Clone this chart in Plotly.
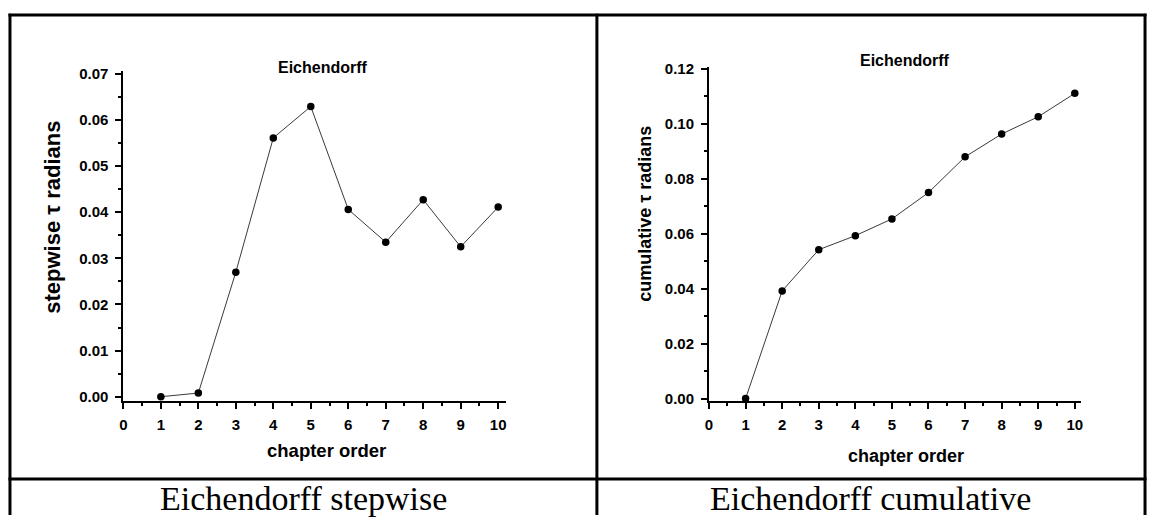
import plotly.graph_objects as go

# Eichendorff: stepwise and cumulative tau (radians) per chapter
chapters = [1, 2, 3, 4, 5, 6, 7, 8, 9, 10]
stepwise_tau = [0.0000, 0.0008, 0.0270, 0.0561, 0.0629, 0.0406, 0.0335, 0.0427, 0.0325, 0.0411]
cumulative_tau = [0.0000, 0.0392, 0.0542, 0.0593, 0.0654, 0.0750, 0.0880, 0.0963, 0.1026, 0.1111]

panel_title = "Eichendorff"
x_title = "chapter order"
y_title_step = "stepwise \u03c4 radians"
y_title_cum = "cumulative \u03c4 radians"
captions = ["Eichendorff stepwise", "Eichendorff cumulative"]

W, H = 1153, 518


def px(x):
    return x / W


def py(y):
    return 1 - y / H


SANS = "Liberation Sans, Arial, sans-serif"
SERIF = "Liberation Serif, Times New Roman, serif"

fig = go.Figure()

line_style = dict(color="#3a3a3a", width=1)
marker_style = dict(color="black", size=7.5, symbol="circle")

fig.add_trace(go.Scatter(x=chapters, y=stepwise_tau, mode="lines+markers",
                         line=line_style, marker=marker_style,
                         xaxis="x", yaxis="y", showlegend=False))
fig.add_trace(go.Scatter(x=chapters, y=cumulative_tau, mode="lines+markers",
                         line=line_style, marker=marker_style,
                         xaxis="x2", yaxis="y2", showlegend=False))

tick_font = dict(family=SANS, size=15, color="black", weight="bold")


def xaxis_style(domain, rng):
    return dict(domain=domain, range=rng, showgrid=False, zeroline=False,
                showline=True, linecolor="black", linewidth=2,
                ticks="outside", ticklen=6, tickwidth=1.5, tickcolor="black",
                tickmode="linear", tick0=0, dtick=1, tickfont=tick_font,
                ticklabelstandoff=3,
                minor=dict(ticks="outside", ticklen=3, tickwidth=1.5,
                           tickcolor="black", dtick=0.5, tick0=0, showgrid=False),
                fixedrange=True)


def yaxis_style(domain, rng, dtick, minor_dtick, anchor):
    return dict(domain=domain, range=rng, showgrid=False, zeroline=False,
                anchor=anchor,
                showline=True, linecolor="black", linewidth=2,
                ticks="outside", ticklen=6, tickwidth=1.5, tickcolor="black",
                tickmode="linear", tick0=0, dtick=dtick, tickformat=".2f",
                tickfont=tick_font, ticklabelstandoff=4,
                minor=dict(ticks="outside", ticklen=3, tickwidth=1.5,
                           tickcolor="black", dtick=minor_dtick, tick0=0,
                           showgrid=False),
                fixedrange=True)


ydom = [py(403.7), py(66)]
ydom2 = [py(403.7), py(61.7)]

fig.update_layout(
    width=W, height=H,
    margin=dict(l=0, r=0, t=0, b=0),
    paper_bgcolor="white", plot_bgcolor="white",
    xaxis=dict(**xaxis_style([px(120), px(504.3)], [0, 10.2]), anchor="y"),
    yaxis=yaxis_style(ydom, [-0.001, 0.0705], 0.01, 0.005, "x"),
    xaxis2=dict(**xaxis_style([px(708.7), px(1082.3)], [0, 10.16]), anchor="y2"),
    yaxis2=yaxis_style(ydom2, [-0.001, 0.1206], 0.02, 0.01, "x2"),
)

annotations = []


def label(text, x, y, size, angle=0, family=SANS, bold=True):
    annotations.append(dict(text=text, x=px(x), y=py(y), xref="paper", yref="paper",
                            xanchor="center", yanchor="middle", showarrow=False,
                            textangle=angle,
                            font=dict(family=family, size=size, color="black",
                                      weight="bold" if bold else "normal")))


# panel titles
label(panel_title, 321, 62, 16)
label(panel_title, 906, 55, 16)
# axis titles
label(x_title, 324, 454, 18.5)
label(x_title, 907, 460, 18)
label(y_title_step, 48, 215, 22, angle=-90)
label(y_title_cum, 644, 212, 18, angle=-90)
# cell captions
label(captions[0], 301, 503.5, 34, family=SERIF, bold=False)
label(captions[1], 871, 503.5, 34, family=SERIF, bold=False)

fig.update_layout(annotations=annotations)

# table rules around the two panels
rule = dict(color="black", width=3)
shapes = [
    dict(type="line", xref="paper", yref="paper", x0=px(4.5), x1=px(1148.5), y0=py(8.3), y1=py(8.3), line=rule),
    dict(type="line", xref="paper", yref="paper", x0=px(6), x1=px(6), y0=py(7), y1=py(520), line=rule),
    dict(type="line", xref="paper", yref="paper", x0=px(596), x1=px(596), y0=py(7), y1=py(520), line=rule),
    dict(type="line", xref="paper", yref="paper", x0=px(1147), x1=px(1147), y0=py(7), y1=py(520), line=rule),
    dict(type="line", xref="paper", yref="paper", x0=px(4.5), x1=px(1148.5), y0=py(483.3), y1=py(483.3), line=rule),
]
fig.update_layout(shapes=shapes)

fig.write_html("out.html", post_script="document.body.style.margin = '0';")
